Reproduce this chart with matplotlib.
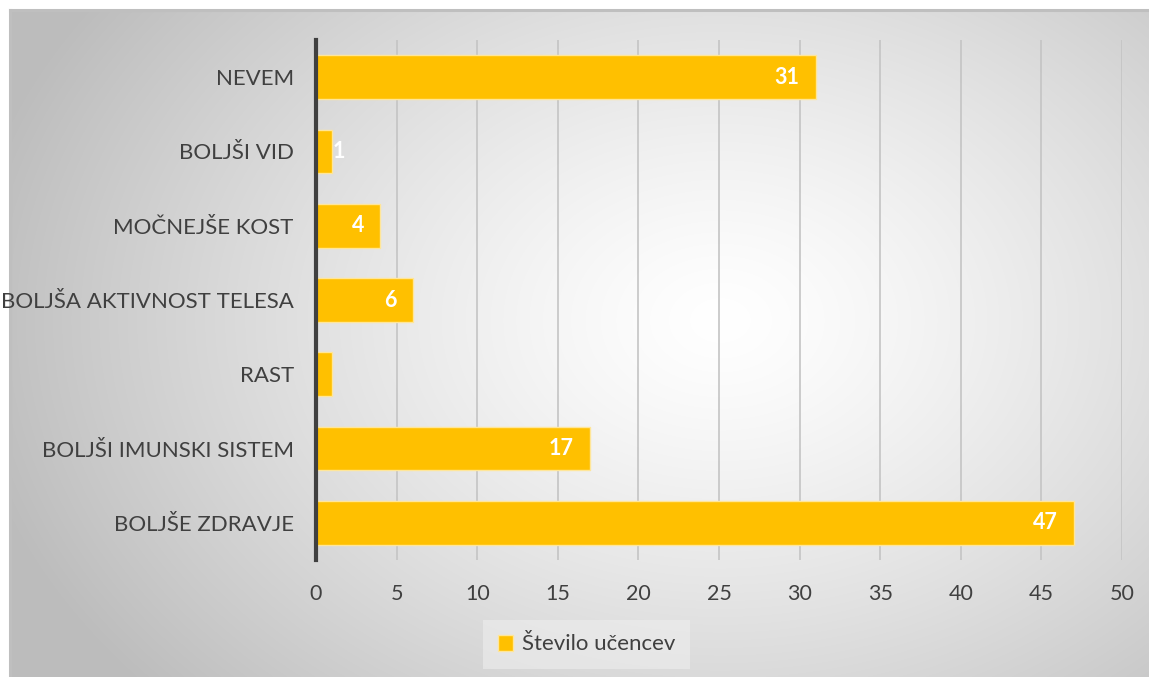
import numpy as np
import matplotlib.pyplot as plt
from matplotlib.lines import Line2D

plt.rcParams['font.family'] = ['Lato', 'DejaVu Sans']

categories = ["NEVEM", "BOLJŠI VID", "MOČNEJŠE KOST", "BOLJŠA AKTIVNOST TELESA",
              "RAST", "BOLJŠI IMUNSKI SISTEM", "BOLJŠE ZDRAVJE"]
values = [31, 1, 4, 6, 1, 17, 47]
show_label = [True, True, True, True, False, True, True]
series_name = "Število učencev"
xticks = [0, 5, 10, 15, 20, 25, 30, 35, 40, 45, 50]

W, H = 1149, 677
fig = plt.figure(figsize=(W / 100, H / 100), dpi=100)
fig.patch.set_facecolor('white')

# Radial grey-to-white gradient behind the chart
bx0, by0 = 10, 10
bg = fig.add_axes([bx0 / W, 0, (W - bx0) / W, (H - by0) / H], zorder=0)
gx, gy = np.meshgrid(np.arange(bx0, W), np.arange(by0, H))
cx, cy = 720, 320
r = np.sqrt(((gx - cx) / 760.0) ** 2 + ((gy - cy) / 560.0) ** 2)
r = np.clip(r, 0, 1)
shade = 1.0 - 0.26 * r ** 1.3
img = np.dstack([shade, shade, shade])
bg.imshow(img, aspect='auto', interpolation='bilinear')
bg.set_axis_off()
# border on top and left of the chart box
fig.add_artist(Line2D([bx0 / W, 1], [1 - by0 / H, 1 - by0 / H], color='#bfbfbf', lw=2.2, zorder=1))
fig.add_artist(Line2D([bx0 / W, bx0 / W], [0, 1 - by0 / H], color='#bfbfbf', lw=2.2, zorder=1))

ax = fig.add_axes([316 / W, 1 - 560 / H, (1122 - 316) / W, (560 - 40) / H], zorder=2)
ax.patch.set_alpha(0)

y = np.arange(len(categories))
bars = ax.barh(y, values, height=0.59, color='#FFC000', edgecolor='#FFE699', linewidth=1.0, zorder=3)
ax.set_ylim(len(categories) - 0.5, -0.5)
ax.set_xlim(0, 50)
ax.set_xticks(xticks)
ax.set_xticklabels([str(t) for t in xticks])
ax.set_yticks(y)
ax.set_yticklabels(categories)
ax.tick_params(axis='x', length=0, labelsize=15.5, colors='#404040', pad=17)
ax.tick_params(axis='y', length=0, labelsize=16, colors='#404040', pad=16)
ax.grid(axis='x', color='#c4c4c4', linewidth=1.2, zorder=1)
ax.set_axisbelow(True)
for s in ['top', 'right', 'bottom']:
    ax.spines[s].set_visible(False)
ax.spines['left'].set_color('#404040')
ax.spines['left'].set_linewidth(3)
ax.spines['left'].set_zorder(4)

for yi, v, show in zip(y, values, show_label):
    if not show:
        continue
    if v < 2:
        ax.annotate(str(v), (v, yi), xytext=(0, 0), textcoords='offset points',
                    ha='left', va='center', color='white', fontsize=15.5, fontweight='bold', zorder=5)
    else:
        ax.annotate(str(v), (v, yi), xytext=(-11.5, 0), textcoords='offset points',
                    ha='right', va='center', color='white', fontsize=15.5, fontweight='bold', zorder=5)

leg = fig.legend([bars], [series_name], loc='center', bbox_to_anchor=(586.5 / W, 1 - 644.5 / H),
                 frameon=True, fontsize=16, handlelength=0.7, handleheight=0.7,
                 handletextpad=0.4, borderpad=0.65, fancybox=False)
leg.get_frame().set_facecolor('#eeeeee')
leg.get_frame().set_edgecolor('none')
leg.get_frame().set_alpha(0.6)
for t in leg.get_texts():
    t.set_color('#404040')

fig.savefig('out.png', dpi=100)
